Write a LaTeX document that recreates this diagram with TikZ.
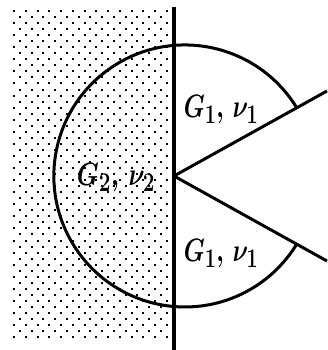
\documentclass[tikz,border=0pt]{standalone}
\begin{document}
\begin{tikzpicture}[x=1pt,y=-1pt,
  wall/.style={line width=3.6pt},
  edge/.style={line width=3pt},
  dotmark/.style={fill=black},
  lbl/.style={font=\Huge\boldmath, inner sep=0pt}]
\useasboundingbox (0,0) rectangle (327,350);
% dotted region
\foreach \i in {0,...,54}{
  \pgfmathsetmacro{\yy}{11+6.04*\i}
  \ifodd\i
    \foreach \k in {0,...,12}{
      \fill[dotmark] ({19.9+11.75*\k-1},{\yy-1}) rectangle ++(2,2);
    }
  \else
    \foreach \k in {0,...,13}{
      \fill[dotmark] ({14+11.75*\k-1},{\yy-1}) rectangle ++(2,2);
    }
  \fi
}
% geometry
\coordinate (V) at (174,176);
\coordinate (C) at (185,176);
\coordinate (P1) at (296.9,108.1);
\coordinate (P2) at (296.9,243.9);
\coordinate (E1) at (327,91);
\coordinate (E2) at (327,261);
\coordinate (T) at (174,7);
\coordinate (B) at (174,350);
% arc around left
\draw[edge] (P1) arc[start angle=-31.2, end angle=-328.8, radius=131];
% wedge lines
\draw[edge] (V) -- (E1);
\draw[edge] (V) -- (E2);
% wall
\draw[wall] (T) -- (B);
% labels
\node[lbl] (L1) at (221,110) {\scalebox{0.95}[1.3]{$G_1,\,\nu_1$}};
\node[lbl] (L2) at (221,254) {\scalebox{0.95}[1.3]{$G_1,\,\nu_1$}};
\node[lbl] (L3) at (116,178) {\scalebox{1.0}[1.3]{$G_2,\,\nu_2$}};
\end{tikzpicture}
\end{document}
